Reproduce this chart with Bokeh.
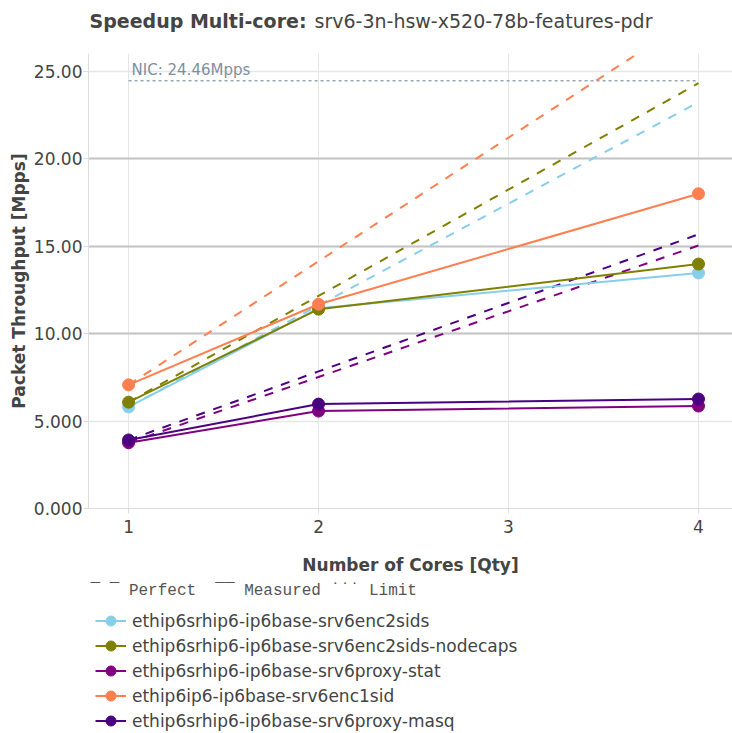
from bokeh.plotting import figure
from bokeh.layouts import column
from bokeh.models import Range1d, FixedTicker, Label, Legend, LegendItem, Grid
from bokeh.embed import file_html
from bokeh.resources import INLINE

# ---- data ----
cores = [1, 2, 4]
x_ticks = [1, 2, 3, 4]
y_ticks = [0, 5, 10, 15, 20, 25]
y_tick_labels = ["0.000", "5.000", "10.00", "15.00", "20.00", "25.00"]
dark_grid_ticks = [10, 15, 20]

names = [
    "ethip6srhip6-ip6base-srv6enc2sids",
    "ethip6srhip6-ip6base-srv6enc2sids-nodecaps",
    "ethip6srhip6-ip6base-srv6proxy-stat",
    "ethip6ip6-ip6base-srv6enc1sid",
    "ethip6srhip6-ip6base-srv6proxy-masq",
]
colors = ["#87CEEB", "#808000", "#800080", "#FF7F50", "#4B0082"]

enc2sids_measured = [5.81, 11.45, 13.47]
enc2sids_perfect = [5.81, 11.62, 23.24]
nodecaps_measured = [6.08, 11.40, 13.98]
nodecaps_perfect = [6.08, 12.16, 24.32]
proxystat_measured = [3.76, 5.57, 5.86]
proxystat_perfect = [3.76, 7.52, 15.04]
enc1sid_measured = [7.07, 11.68, 18.00]
enc1sid_perfect = [7.07, 14.14, 28.28]
proxymasq_measured = [3.92, 5.97, 6.26]
proxymasq_perfect = [3.92, 7.84, 15.68]

nic_limit_x = [1, 4]
nic_limit_y = [24.46, 24.46]
nic_text = "NIC: 24.46Mpps"

title_bold = "Speedup Multi-core:"
title_rest = "srv6-3n-hsw-x520-78b-features-pdr"
NB = "\u00a0"
key_text = ("\u00af" + NB + "\u00af" + NB + "Perfect" + NB + NB + "\u00af\u00af"
            + NB + "Measured" + NB + "\u02d9\u02d9\u02d9" + NB + "Limit")

measured = [enc2sids_measured, nodecaps_measured, proxystat_measured,
            enc1sid_measured, proxymasq_measured]
perfect = [enc2sids_perfect, nodecaps_perfect, proxystat_perfect,
           enc1sid_perfect, proxymasq_perfect]

FONT = "DejaVu Sans"
TXT = "#444444"

# ---- title strip ----
t = figure(width=732, height=45, output_backend="svg", toolbar_location=None,
           x_range=Range1d(0, 1), y_range=Range1d(0, 1),
           min_border_left=88, min_border_right=0, min_border_top=0,
           min_border_bottom=0, outline_line_color=None)
t.axis.visible = False
t.grid.visible = False
t.add_layout(Label(x=1, y=25, x_units="screen", y_units="screen",
                   text=title_bold, text_font=FONT, text_font_size="19px",
                   text_font_style="bold", text_color=TXT,
                   text_baseline="middle"))
t.add_layout(Label(x=226, y=25, x_units="screen", y_units="screen",
                   text=title_rest, text_font=FONT, text_font_size="19px",
                   text_color=TXT, text_baseline="middle"))

# ---- main plot ----
p = figure(width=732, height=532, output_backend="svg", toolbar_location=None,
           x_range=Range1d(0.789, 4.179), y_range=Range1d(0, 26.02),
           min_border_left=88, min_border_right=0, min_border_top=8,
           min_border_bottom=66, outline_line_color=None,
           background_fill_color="white", border_fill_color="white")

for ax in (p.xaxis[0], p.yaxis[0]):
    ax.major_label_text_font = FONT
    ax.major_label_text_font_size = "17px"
    ax.major_label_text_color = TXT
    ax.axis_label_text_font = FONT
    ax.axis_label_text_font_size = "17px"
    ax.axis_label_text_font_style = "bold"
    ax.axis_label_text_color = TXT
    ax.axis_line_color = "#dddddd"
    ax.major_tick_line_color = "#dddddd"
    ax.major_tick_out = 5
    ax.major_tick_in = 0
    ax.minor_tick_line_color = None

p.xaxis.ticker = FixedTicker(ticks=x_ticks)
p.xaxis.axis_label = "Number of Cores [Qty]"
p.xaxis.major_label_standoff = 6
p.xaxis.axis_label_standoff = 19

p.yaxis.ticker = FixedTicker(ticks=y_ticks)
p.yaxis.major_label_overrides = {t_: l for t_, l in zip(y_ticks, y_tick_labels)}
p.yaxis.axis_label = "Packet Throughput [Mpps]"
p.yaxis.major_label_standoff = 1
p.yaxis.axis_label_standoff = 2

p.xgrid.ticker = FixedTicker(ticks=x_ticks)
p.xgrid.grid_line_color = "#e6e6e6"
p.ygrid.ticker = FixedTicker(ticks=y_ticks)
p.ygrid.grid_line_color = "#e6e6e6"
p.ygrid.grid_line_width = 1.5
p.add_layout(Grid(dimension=1, ticker=FixedTicker(ticks=dark_grid_ticks),
                  grid_line_color="#c4c4c4", grid_line_width=2))

# NIC limit
p.line(nic_limit_x, nic_limit_y, line_color="#9aa6b6", line_width=1.5,
       line_dash="3 3")
p.add_layout(Label(x=nic_limit_x[0], y=nic_limit_y[0], text=nic_text,
                   x_offset=3, y_offset=2, text_baseline="bottom",
                   text_font=FONT, text_font_size="15px",
                   text_color="#7f8fa0"))

# perfect lines
for vals, c in zip(perfect, colors):
    p.line(cores, vals, line_color=c, line_width=2, line_dash="9 9")

# measured lines
for vals, c in zip(measured, colors):
    p.line(cores, vals, line_color=c, line_width=2)
    p.scatter(cores, vals, size=12, fill_color=c, line_color=c)

# ---- legend strip (its own renderers lie outside its ranges) ----
lg = figure(width=732, height=156, output_backend="svg", toolbar_location=None,
            x_range=Range1d(-10, -9), y_range=Range1d(-10, -9),
            min_border_left=88, min_border_right=0, min_border_top=0,
            min_border_bottom=0, outline_line_color=None)
lg.axis.visible = False
lg.grid.visible = False
items = []
for name, vals, c in zip(names, measured, colors):
    lr = lg.line(cores, vals, line_color=c, line_width=2)
    sr = lg.scatter(cores, vals, size=12, fill_color=c, line_color=c)
    items.append(LegendItem(label=name, renderers=[lr, sr]))

legend = Legend(items=items, location=(7, 0), orientation="vertical",
                label_text_font=FONT, label_text_font_size="17px",
                label_text_color=TXT, glyph_width=31, glyph_height=25,
                label_height=25, spacing=0, padding=0, margin=0,
                label_standoff=6, background_fill_alpha=0,
                border_line_alpha=0)
lg.add_layout(legend)
lg.add_layout(Label(x=2, y=143, x_units="screen", y_units="screen",
                    text=key_text, text_font="Liberation Mono",
                    text_font_size="16px", text_color="#555555",
                    text_baseline="middle"))

open("out.html", "w").write(file_html(column(t, p, lg, spacing=0), INLINE))
